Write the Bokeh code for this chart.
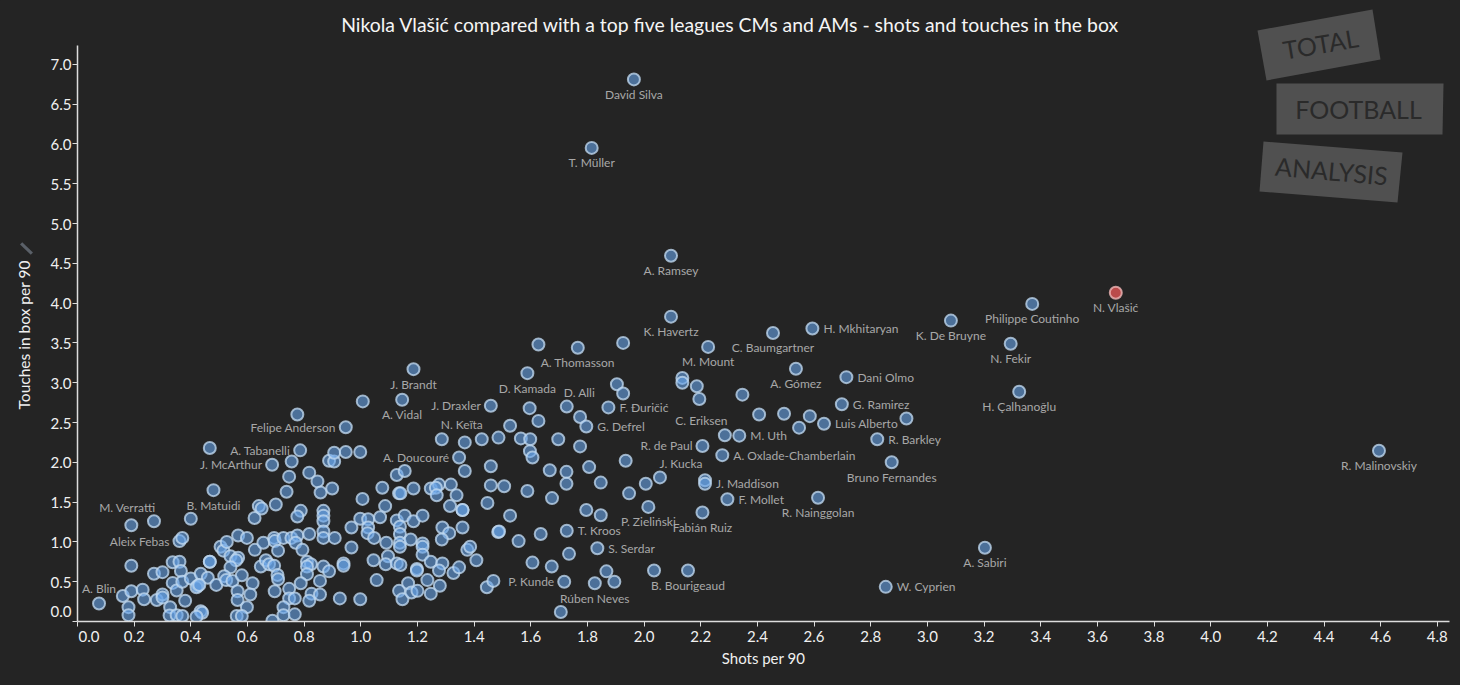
from bokeh.plotting import figure
from bokeh.core.properties import value
from bokeh.models import Range1d, ColumnDataSource, Label, PolyAnnotation, FixedTicker, NumeralTickFormatter
from bokeh.embed import file_html
from bokeh.resources import INLINE

TITLE = "Nikola Vlašić compared with a top five leagues CMs and AMs - shots and touches in the box"
X_LABEL = "Shots per 90"
Y_LABEL = "Touches in box per 90"
x_ticks = [round(i * 0.2, 1) for i in range(25)]
y_ticks = [round(i * 0.5, 1) for i in range(15)]

shots = [
 .076,.16,.19,.18,.18,.19,.27,.19,.27,.30,.23,.235,.28,.30,.30,.336,.36,.365,.336,.35,.37,.40,.38,.327,.325,.35,.37,
 .435,.46,.425,.42,.43,.435,.44,.42,.49,.467,.467,.36,.37,.40,.48,.467,.625,.64,.65,.70,.505,.515,.527,.567,.598,.54,
 .567,.56,.54,.518,.525,.547,.58,.618,.565,.565,.61,.598,.562,.58,.626,.656,.694,.696,.727,.708,.755,.776,.77,.794,
 .818,.647,.665,.676,.694,.706,.708,.747,.696,.747,.767,.727,.727,.767,.688,.788,.776,.738,.747,.756,.786,.687,.776,
 .947,.818,.847,.858,.899,.888,.906,.906,.947,.998,.868,.868,.868,.868,.868,.908,.81,.824,.81,.81,.788,.856,.868,.888,
 .826,.856,.818,.926,.998,.939,.939,.967,.967,.998,1.026,1.026,1.024,1.047,1.006,1.076,1.086,1.068,1.127,1.155,1.135,
 1.14,1.186,1.127,1.155,1.186,1.218,1.138,1.138,1.138,1.138,1.09,1.176,1.218,1.218,1.218,1.045,1.056,1.096,1.088,
 1.127,1.14,1.198,1.198,1.247,1.288,1.276,1.235,1.167,1.135,1.147,1.179,1.2,1.247,1.279,1.247,1.276,1.265,1.268,1.318,
 1.338,1.315,1.359,1.359,1.288,1.312,1.286,1.359,1.376,1.386,1.408,1.327,1.347,1.445,1.468,1.447,1.459,1.459,1.347,
 1.367,1.286,1.367,1.427,1.486,1.485,1.146,1.007,1.186,1.459,1.596,1.727,1.874,1.774,1.796,1.627,1.527,1.565,1.598,
 1.697,1.774,1.597,1.606,1.667,1.726,1.726,1.806,1.935,1.847,1.506,1.588,1.675,1.947,2.006,2.056,1.527,1.796,1.847,
 2.015,1.488,1.557,1.635,1.727,1.735,1.835,1.606,1.674,1.718,1.826,1.867,1.895,2.035,2.155,1.706,2.206,2.294,2.614,
 2.215,2.215,2.206,2.276,2.285,2.336,2.406,2.494,2.585,2.547,2.635,2.823,2.874,2.853,2.698,1.627,1.766,1.926,1.588,
 1.904,1.926,2.135,2.135,2.186,2.195,2.226,2.347,2.455,2.594,2.536,2.714,2.926,1.964,1.815,2.095,2.095,3.083,3.37,
 3.294,3.324,4.594,3.203,
]
touches = [
 .226,.32,.38,.18,.08,1.21,1.26,.70,.60,.62,.40,.28,.27,.34,.30,.745,.75,.635,.485,.39,.50,.54,.26,.18,.075,.08,.07,
 .60,.55,.45,.43,.46,.13,.11,.06,.46,.75,.75,1.01,1.05,1.29,1.65,2.18,1.30,1.45,1.42,1.47,.94,.89,1.00,1.08,1.05,.82,
 .80,.77,.68,.57,.52,.51,.58,.48,.38,.27,.34,.18,.07,.07,.90,.99,1.05,1.01,1.05,.89,1.05,1.08,.99,.90,
 1.10,.69,.77,.72,.70,.585,.53,.41,.38,.29,.29,.18,.08,.09,.01,1.39,1.32,1.63,1.82,2.01,2.15,1.97,2.60,
 2.44,1.87,1.76,1.62,1.67,2.02,2.01,2.12,2.13,2.13,1.39,1.33,1.26,1.13,1.05,1.05,.75,.72,.69,.595,.48,.51,.69,.63,
 .35,.34,.26,.29,.28,.73,.70,.93,1.18,1.29,1.285,1.18,1.11,1.05,1.54,1.68,1.45,1.31,1.84,1.89,1.61,
 1.61,1.67,1.27,1.33,1.26,1.33,1.19,1.10,.99,.94,.99,1.03,.98,.94,.84,.77,.52,.82,.72,
 .73,.71,.66,.64,.75,.73,.64,.52,.48,.385,.28,.365,.385,.35,.45,1.67,1.72,1.68,1.585,1.72,
 1.585,1.45,1.40,1.40,1.18,1.11,1.03,1.18,.90,.94,.77,.61,.68,.43,.51,1.49,1.71,1.95,2.06,
 1.89,2.29,2.25,2.29,2.31,1.125,2.785,2.765,3.17,2.71,2.68,2.70,2.69,2.57,2.45,2.52,2.46,2.30,2.29,
 2.29,2.20,2.14,2.06,1.90,1.88,1.73,1.94,2.02,1.745,1.70,1.64,1.55,1.61,1.73,1.81,1.33,1.40,1.335,
 1.44,1.13,1.01,1.10,1.14,.85,.92,.74,.69,.50,.48,.63,.50,.64,.64,.12,1.37,1.535,1.555,
 1.775,1.73,2.205,2.09,2.34,2.335,2.60,2.61,2.58,2.435,2.485,2.29,2.00,.435,2.73,3.48,3.44,3.50,3.12,
 2.98,2.865,3.06,3.00,2.955,2.795,3.45,2.85,3.625,3.68,3.175,3.07,2.55,6.81,5.95,4.595,3.83,3.78,3.99,
 3.49,2.887,2.146,.927,
]
focus_name = ["N. Vlašić"]
focus_shots = [3.665]
focus_touches = [4.13]

label_names = ["David Silva","T. Müller","A. Ramsey","K. Havertz","K. De Bruyne","Philippe Coutinho","N. Fekir",
 "H. Çalhanoğlu","R. Malinovskiy","A. Sabiri","A. Vidal","J. Brandt","D. Kamada","A. Thomasson","M. Mount",
 "C. Baumgartner","A. Gómez","Bruno Fernandes","R. Nainggolan","P. Zieliński","Fabián Ruiz","B. Bourigeaud","B. Matuidi",
 "Rúben Neves",
 "W. Cyprien","H. Mkhitaryan","Dani Olmo","G. Ramirez","Luis Alberto","R. Barkley","M. Uth","A. Oxlade-Chamberlain",
 "J. Maddison","F. Mollet","T. Kroos","S. Serdar","G. Defrel","F. Đuričić",
 "J. Draxler","R. de Paul","P. Kunde","A. Tabanelli","J. McArthur","A. Doucouré","Felipe Anderson","Aleix Febas",
 "A. Blin","M. Verratti","N. Keïta","D. Alli","J. Kucka","C. Eriksen"]
label_x = [1.964,1.815,2.095,2.095,3.083,3.37,3.294,3.324,4.594,3.203,1.146,1.186,1.588,1.766,2.226,2.455,2.536,2.874,
 2.614,2.015,2.206,2.155,.48,1.826,
 2.853,2.594,2.714,2.698,2.635,2.823,2.336,2.276,2.215,2.294,1.727,1.835,1.796,1.874,
 1.459,2.206,1.718,.786,.687,1.347,.947,.36,
 .076,.19,1.367,1.726,2.056,2.195]
label_y = [6.81,5.95,4.595,3.83,3.78,3.99,3.49,2.887,2.146,.927,2.785,3.17,3.12,3.44,3.45,3.625,3.175,2.00,1.555,1.44,
 1.37,.64,1.65,.48,
 .435,3.68,3.07,2.73,2.485,2.29,2.335,2.09,1.73,1.535,1.14,.92,2.45,2.69,
 2.71,2.205,.50,2.15,1.97,2.06,2.44,1.01,
 .226,1.21,2.25,2.70,1.81,2.795]
label_side = ["below"]*24 + ["right"]*14 + ["left"]*8 + ["above","verratti","keita","alli","kucka","eriksen"]

SIDE = {"below":("center",0,15),"right":("left",11,0),"left":("right",-10,0),"above":("center",0,-15),
        "verratti":("center",-4,-18),"keita":("center",-3,-18),"alli":("center",13,-14),"kucka":("center",21,-14),
        "eriksen":("center",2,21)}

BG = "#242424"
FONT = "Lato"
FRAME_L, FRAME_B = 77, 621
PX_X, PX_Y = 283.3, 79.6
p = figure(frame_width=1372, frame_height=FRAME_B, x_range=Range1d(0, 1372/PX_X), y_range=Range1d(0, FRAME_B/PX_Y),
           output_backend="svg", toolbar_location=None, background_fill_color=BG, border_fill_color=BG,
           min_border_left=FRAME_L, min_border_right=11, min_border_top=0, min_border_bottom=64,
           outline_line_color=None)
p.grid.visible = False

for ax, ticks in ((p.xaxis[0], x_ticks), (p.yaxis[0], y_ticks)):
    ax.ticker = FixedTicker(ticks=ticks)
    ax.formatter = NumeralTickFormatter(format="0.0")
    ax.axis_line_color = "#dddddd"
    ax.axis_line_width = 1.5
    ax.major_tick_line_color = "#dddddd"
    ax.major_tick_in = 0
    ax.major_tick_out = 5
    ax.minor_tick_line_color = None
    ax.major_label_text_color = "#f0f0f0"
    ax.major_label_text_font = FONT
    ax.major_label_text_font_size = "15px"
    ax.axis_label_text_color = "#f0f0f0"
    ax.axis_label_text_font = FONT
    ax.axis_label_text_font_size = "15px"
    ax.axis_label_text_font_style = "normal"
p.xaxis[0].major_label_overrides = {0: "\u00a0" * 6 + "0.0"}
p.yaxis[0].major_label_overrides = {0: "0.0\n\u00a0"}
p.yaxis[0].bounds = (0, 576/PX_Y)
p.xaxis.axis_label = X_LABEL
# trailing no-break spaces centre the rotated title on the axis line, not on the taller frame
p.yaxis.axis_label = Y_LABEL + "\u00a0" * 12
p.yaxis.axis_label_text_font_size = "15.5px"
p.xaxis.major_label_standoff = 0
p.xaxis.axis_label_standoff = 1
p.yaxis.major_label_standoff = 1
p.yaxis.axis_label_standoff = 15

def cx(px):
    return px - FRAME_L
def cy(py):
    return FRAME_B - py

# logo
LOGO = [([1257,1372,1380,1266],[30,9,59,80],"TOTAL",1320,43,0.17),
        ([1276,1443,1442,1276],[83,83,134,134],"FOOTBALL",1358,108,0),
        ([1263,1402,1397,1259],[141,152,202,191],"ANALYSIS",1331,170,-0.09)]
for xs, ys, word, tx, ty, ang in LOGO:
    p.add_layout(PolyAnnotation(xs=[cx(v) for v in xs], ys=[cy(v) for v in ys], xs_units="screen", ys_units="screen",
                                fill_color="#505050", fill_alpha=1, line_color=None, level="overlay"))
    p.add_layout(Label(x=cx(tx), y=cy(ty), x_units="screen", y_units="screen", text=word, angle=ang,
                       text_align="center", text_baseline="middle",
                       text_font=FONT, text_font_size="25px", text_color="#2a2a2a", level="overlay"))

p.add_layout(Label(x=cx(730), y=cy(23.5), x_units="screen", y_units="screen", text=TITLE, text_font=FONT,
                   text_align="center", text_baseline="middle", text_font_size="19.4px", text_color="#f5f5f5"))

p.scatter(shots, touches, size=12, fill_color="#67a4e7", fill_alpha=0.6, line_color="#c0d8f0", line_alpha=0.78, line_width=2)
p.scatter(focus_shots, focus_touches, size=12, fill_color="#e05555", fill_alpha=0.8, line_color="#f0b8b8", line_alpha=0.8, line_width=2)

names = label_names + focus_name
sides = label_side + ["below"]
src = ColumnDataSource(dict(x=label_x + focus_shots, y=label_y + focus_touches, t=names,
                            a=[SIDE[s][0] for s in sides], dx=[SIDE[s][1] for s in sides], dy=[SIDE[s][2] for s in sides]))
p.text("x", "y", text="t", source=src, text_align="a", text_baseline="middle", x_offset="dx", y_offset="dy",
       text_font=value(FONT), text_font_size=value("12px"), text_color="#a8a8a8")

# pushpin next to the y axis title (side panels are not clipped to the frame)
p.add_layout(Label(x=21, y=cy(248), x_units="screen", y_units="screen", text="\u00a0", angle=0.8,
                   text_align="center", text_baseline="middle", text_font_size="4px", text_color="#5a6068",
                   background_fill_color="#5a6068", padding=(1, 5)), "left")

template = "{% block postamble %}<style>html,body{background:" + BG + ";margin:0;overflow:hidden;}</style>{% endblock %}"
open("out.html", "w").write(file_html(p, INLINE, template=template))
